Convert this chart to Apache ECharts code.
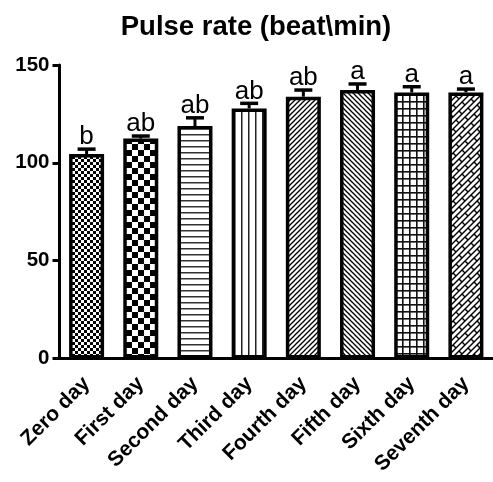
<!DOCTYPE html>
<html>
<head>
<meta charset="utf-8">
<script src="https://cdn.jsdelivr.net/npm/echarts@6/dist/echarts.min.js"></script>
<style>
html,body{margin:0;padding:0;background:#fff;}
#chart{width:493px;height:482px;}
</style>
</head>
<body>
<div id="chart"></div>
<script>
const categories = ['Zero day','First day','Second day','Third day','Fourth day','Fifth day','Sixth day','Seventh day'];
const means = [104.5, 112.4, 118.8, 127.8, 133.8, 137.2, 136.0, 136.0];
const errTops = [107.0, 113.7, 123.0, 130.4, 137.2, 140.3, 138.9, 137.7];
const letters = ['b','ab','ab','ab','ab','a','a','a'];
const yTicks = [0, 50, 100, 150];

function mk(w, h, draw) {
  const c = document.createElement('canvas');
  c.width = w; c.height = h;
  const g = c.getContext('2d');
  g.fillStyle = '#fff'; g.fillRect(0, 0, w, h);
  g.fillStyle = '#000'; g.strokeStyle = '#000';
  draw(g, w, h);
  return c;
}
function checker(n) {
  return mk(2*n, 2*n, (g) => { g.fillRect(0,0,n,n); g.fillRect(n,n,n,n); });
}
const patterns = [
  checker(3),
  checker(6),
  mk(4, 6, (g) => { g.fillStyle = '#333'; g.fillRect(0, 2, 4, 1.5); }),
  mk(7, 4, (g) => { g.fillStyle = '#222'; g.fillRect(3, 0, 1.5, 4); }),
  mk(5, 5, (g) => { g.lineWidth = 1.3; for (let s of [0,5,10]) { g.beginPath(); g.moveTo(-5, s+5); g.lineTo(s+5, -5); g.stroke(); } }),
  mk(5, 5, (g) => { g.lineWidth = 1.3; for (let s of [-5,0,5]) { g.beginPath(); g.moveTo(s-5, -5); g.lineTo(s+10, 10); g.stroke(); } }),
  mk(7, 7, (g) => { g.fillStyle = '#111'; g.fillRect(3, 0, 1.6, 7); g.fillRect(0, 3, 7, 1.6); }),
  mk(24, 24, (g) => {
    g.lineWidth = 1.4;
    for (let k = -4; k <= 12; k++) {
      const s = 6*k;
      g.beginPath(); g.moveTo(-30, s+30); g.lineTo(s+30, -30); g.stroke();
    }
    for (let k = -6; k <= 14; k++) {
      for (let m = -4; m <= 4; m++) {
        const u = ((k % 2 + 2) % 2) * 6 + 12*m;
        const s0 = 6*k, s1 = 6*k + 6;
        g.beginPath();
        g.moveTo(s0/2 + u, s0/2 - u);
        g.lineTo(s1/2 + u, s1/2 - u);
        g.stroke();
      }
    }
  })
];

const chart = echarts.init(document.getElementById('chart'), null, {renderer: 'canvas'});
const FONT = '"Liberation Sans", Arial, Helvetica, sans-serif';

chart.setOption({
  animation: false,
  backgroundColor: '#fff',
  title: {
    text: 'Pulse rate (beat\\min)',
    left: 251, top: 8, textAlign: 'center',
    textStyle: {fontFamily: FONT, fontWeight: 'bold', fontSize: 27.5, color: '#000'}
  },
  grid: {left: 59.5, top: 65, width: 438, height: 293.5, containLabel: false},
  xAxis: {
    type: 'category', data: categories,
    axisLine: {lineStyle: {color: '#000', width: 3}},
    axisTick: {alignWithLabel: true, length: 8, lineStyle: {color: '#000', width: 3}},
    axisLabel: {rotate: 45, margin: 22, fontFamily: FONT, fontWeight: 'bold', fontSize: 21, color: '#000', interval: 0}
  },
  yAxis: {
    type: 'value', min: 0, max: 150, interval: 50,
    axisLine: {show: true, lineStyle: {color: '#000', width: 3}},
    axisTick: {show: true, length: 7, lineStyle: {color: '#000', width: 3}},
    splitLine: {show: false},
    axisLabel: {margin: 10, fontFamily: FONT, fontWeight: 'bold', fontSize: 20.5, color: '#000',
      formatter: (v) => yTicks.includes(v) ? String(v) : ''}
  },
  series: [
    {
      type: 'custom',
      z: 1,
      data: categories.map((c, i) => [i, means[i], errTops[i]]),
      renderItem: (params, api) => {
        const i = api.value(0);
        const p0 = api.coord([i, api.value(1)]);
        const p1 = api.coord([i, api.value(2)]);
        return {
          type: 'group',
          children: [
            {type: 'line', shape: {x1: p0[0], y1: p0[1], x2: p1[0], y2: p1[1]}, style: {stroke: '#000', lineWidth: 3}},
            {type: 'line', shape: {x1: p1[0]-9, y1: p1[1], x2: p1[0]+9, y2: p1[1]}, style: {stroke: '#000', lineWidth: 3.5}},
            {type: 'text', style: {text: letters[params.dataIndex], x: p1[0], y: p1[1] + 1, align: 'center', verticalAlign: 'bottom',
              font: '26px ' + FONT, fill: '#000'}}
          ]
        };
      }
    },
    {
      type: 'bar',
      z: 2,
      barWidth: 35,
      data: means.map((v, i) => ({
        value: v,
        itemStyle: {color: {image: patterns[i], repeat: 'repeat'}, borderColor: '#000', borderWidth: 3.5}
      }))
    }
  ]
});
</script>
</body>
</html>
